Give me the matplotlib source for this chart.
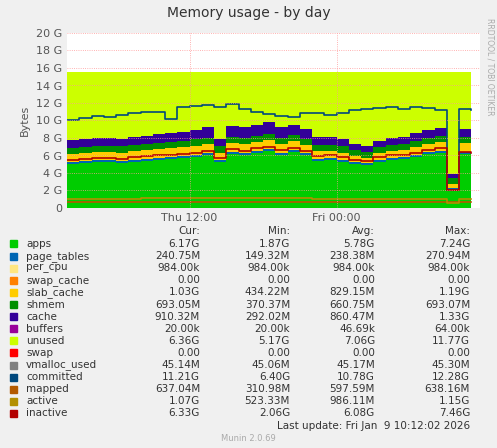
import matplotlib
matplotlib.use("Agg")
import matplotlib.pyplot as plt
import numpy as np

G = 1e9
hours = list(range(0, 34))  # hours since Thu 02:00
apps = [5.0,5.1,5.2,5.2,5.1,5.3,5.4,5.5,5.6,5.7,5.8,6.0,5.2,6.2,6.0,6.3,6.5,6.1,6.4,6.0,5.4,5.5,5.3,5.0,4.9,5.3,5.5,5.6,5.8,6.2,6.3,2.0,6.2,6.2]
page_tables = [0.24]*34
slab_cache = [0.9,0.9,0.95,1.0,1.0,1.0,1.0,1.0,1.0,1.05,1.1,1.1,0.9,1.0,1.1,1.0,1.05,1.0,1.0,1.0,0.9,0.8,0.8,0.7,0.6,0.7,0.8,0.8,0.9,0.9,1.0,0.5,1.0,1.03]
shmem = [0.69]*34
cache = [0.9,0.9,0.95,0.9,0.9,0.9,0.95,1.0,1.0,1.0,1.1,1.2,0.9,1.2,1.2,1.3,1.3,1.2,1.2,1.1,0.9,0.9,0.8,0.7,0.6,0.7,0.8,0.8,0.9,0.9,0.9,0.4,0.9,0.91]
total = 15.5
committed = [10.0,10.3,10.5,10.4,10.6,10.8,11.0,11.0,10.2,11.5,11.6,11.8,11.5,11.9,11.3,11.0,10.7,10.5,10.4,10.8,10.9,10.6,10.8,11.2,11.3,11.4,11.5,11.3,11.5,11.4,11.2,2.0,11.3,11.2]
mapped = [0.63]*34
active = [1.0,1.0,1.0,1.0,1.0,1.0,1.1,1.1,1.1,1.1,1.1,1.1,1.1,1.1,1.1,1.1,1.1,1.1,1.1,1.1,1.0,1.0,1.0,1.0,1.0,1.0,1.0,1.0,1.05,1.05,1.05,0.6,1.07,1.07]
inactive = [5.5,5.6,5.7,5.7,5.6,5.8,5.9,6.0,6.1,6.2,6.3,6.5,5.7,6.7,6.5,6.8,7.0,6.6,6.9,6.5,5.9,6.0,5.8,5.5,5.4,5.8,6.0,6.1,6.3,6.6,6.8,2.1,6.4,6.33]

names = ["apps","page_tables","per_cpu","swap_cache","slab_cache","shmem","cache","buffers","unused","swap","vmalloc_used","committed","mapped","active","inactive"]
colors = ["#00CC00","#0066B3","#FFE680","#FF8000","#FFCC00","#008F00","#330099","#990099","#CCFF00","#FF0000","#808080","#00487D","#B35A00","#B38F00","#B30000"]
cur = ["6.17G","240.75M","984.00k","0.00","1.03G","693.05M","910.32M","20.00k","6.36G","0.00","45.14M","11.21G","637.04M","1.07G","6.33G"]
mn = ["1.87G","149.32M","984.00k","0.00","434.22M","370.37M","292.02M","20.00k","5.17G","0.00","45.06M","6.40G","310.98M","523.33M","2.06G"]
avg = ["5.78G","238.38M","984.00k","0.00","829.15M","660.75M","860.47M","46.69k","7.06G","0.00","45.17M","10.78G","597.59M","986.11M","6.08G"]
mx = ["7.24G","270.94M","984.00k","0.00","1.19G","693.07M","1.33G","64.00k","11.77G","0.00","45.30M","12.28G","638.16M","1.15G","7.46G"]

x = np.array(hours, dtype=float)
fig = plt.figure(figsize=(4.97,4.48), dpi=100, facecolor="#F0F0F0")
ax = fig.add_axes([67/497, 1-208/448, 413/497, 175/448])
ax.set_facecolor("white")
stack = [np.array(apps), np.array(page_tables), np.zeros(34), np.zeros(34), np.array(slab_cache), np.array(shmem), np.array(cache), np.zeros(34)]
base = np.zeros(34)
for s, c in zip(stack, colors[:8]):
    ax.fill_between(x, base*G, (base+s)*G, step="post", color=c, lw=0)
    base = base + s
ax.fill_between(x, base*G, total*G, step="post", color=colors[8], lw=0)
for vals, c in [(committed,colors[11]),(mapped,colors[12]),(active,colors[13]),(inactive,colors[14])]:
    ax.step(x, np.array(vals)*G, where="post", color=c, lw=1.2)
ax.set_xlim(0, 33.7)
ax.set_ylim(0, 20*G)
ax.set_yticks([i*2*G for i in range(11)])
ax.set_yticklabels(["0"]+[f"{i*2} G" for i in range(1,11)], fontsize=8, color="#555555")
ax.set_xticks([10, 22])
ax.set_xticklabels(["Thu 12:00","Fri 00:00"], fontsize=8, color="#555555")
ax.grid(True, color="#FF9999", ls=":", lw=0.6)
ax.set_axisbelow(False)
for s in ax.spines.values(): s.set_visible(False)
ax.tick_params(length=0)
ax.set_ylabel("Bytes", fontsize=8, color="#555555")
fig.text(0.5, 1-13/448, "Memory usage - by day", ha="center", va="center", fontsize=10, color="#333333")
fig.text(490/497, 0.85, "RRDTOOL / TOBI OETIKER", rotation=270, fontsize=5.5, color="#AAAAAA", ha="center", va="center")

def fy(py): return 1-py/448
fs = 7.5
fig.text(200/497, fy(231), "Cur:", ha="right", va="center", fontsize=fs, color="#333333")
fig.text(290/497, fy(231), "Min:", ha="right", va="center", fontsize=fs, color="#333333")
fig.text(375/497, fy(231), "Avg:", ha="right", va="center", fontsize=fs, color="#333333")
fig.text(470/497, fy(231), "Max:", ha="right", va="center", fontsize=fs, color="#333333")
for i, n in enumerate(names):
    py = 244 + i*12.1
    fig.patches.append(plt.Rectangle((10/497, fy(py)-3.5/448), 7/497, 7/448, transform=fig.transFigure, color=colors[i]))
    fig.text(26/497, fy(py), n, va="center", fontsize=fs, color="#333333")
    for xx, v in [(200,cur[i]),(290,mn[i]),(375,avg[i]),(470,mx[i])]:
        fig.text(xx/497, fy(py), v, ha="right", va="center", fontsize=fs, color="#333333")
fig.text(470/497, fy(426), "Last update: Fri Jan  9 10:12:02 2026", ha="right", va="center", fontsize=fs, color="#333333")
fig.text(0.5, fy(438), "Munin 2.0.69", ha="center", va="center", fontsize=6, color="#AAAAAA")
fig.savefig("out.png", dpi=100, facecolor=fig.get_facecolor())
